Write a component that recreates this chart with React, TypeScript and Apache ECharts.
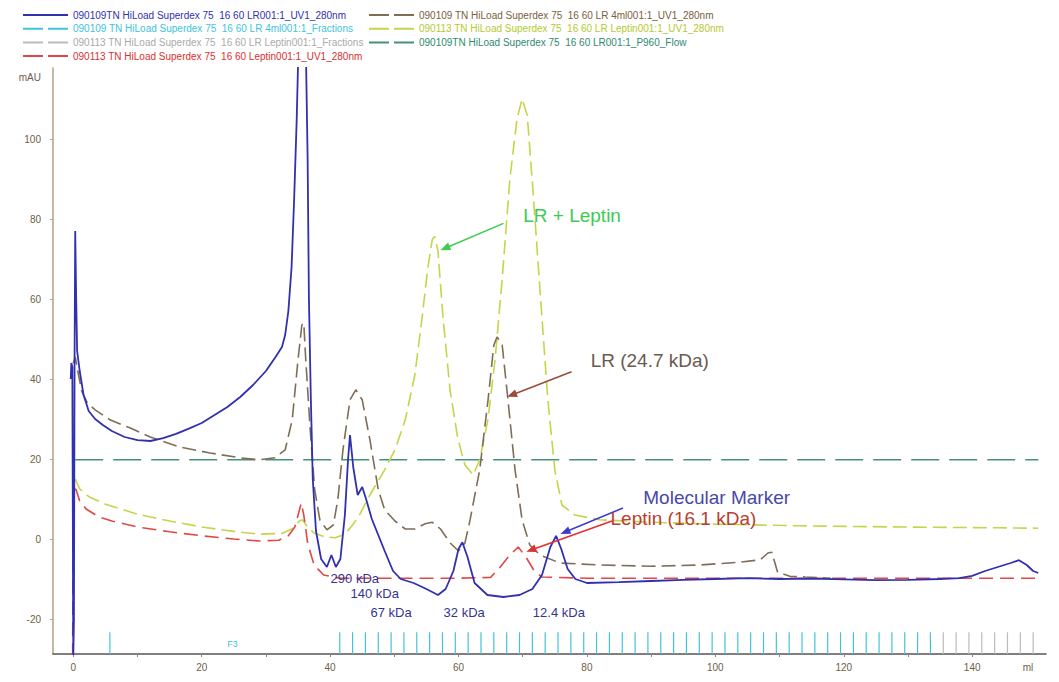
import React, { useEffect, useRef } from 'react';
import * as echarts from 'echarts';

// ---- series names (legend) ----
const NAME_LR_UV = '090109TN HiLoad Superdex 75  16 60 LR001:1_UV1_280nm';
const NAME_LR4_FR = '090109 TN HiLoad Superdex 75  16 60 LR 4ml001:1_Fractions';
const NAME_LRL_FR = '090113 TN HiLoad Superdex 75  16 60 LR Leptin001:1_Fractions';
const NAME_LEP_UV = '090113 TN HiLoad Superdex 75  16 60 Leptin001:1_UV1_280nm';
const NAME_LR4_UV = '090109 TN HiLoad Superdex 75  16 60 LR 4ml001:1_UV1_280nm';
const NAME_LRL_UV = '090113 TN HiLoad Superdex 75  16 60 LR Leptin001:1_UV1_280nm';
const NAME_FLOW = '090109TN HiLoad Superdex 75  16 60 LR001:1_P960_Flow';

// ---- axis ticks ----
const xLabelValues = [0, 20, 40, 60, 80, 100, 120, 140];
const xTickValues = [0, 10, 20, 30, 40, 50, 60, 70, 80, 90, 100, 110, 120, 130, 140];
const yLabelValues = [-20, 0, 20, 40, 60, 80, 100];

// ---- LR001 UV (blue, solid) ----
const lrUvX = [-0.4, -0.3, -0.15, 0.0, 0.1, 0.2, 0.3, 0.45, 0.6, 1.0, 1.6, 2.4, 3.4, 4.6, 6.0, 8.0, 10.0, 12.0, 14.0, 16.0, 18.0, 20.0, 22.0, 24.0, 26.0, 28.0, 30.0, 31.5, 32.5, 33.0, 33.5, 34.0, 34.4, 34.8, 35.1, 35.6, 36.2, 36.5, 36.7, 37.0, 37.3, 37.8, 38.6, 39.5, 40.2, 40.9, 41.6, 42.3, 42.8, 43.1, 43.6, 44.3, 45.0, 45.6, 46.5, 47.5, 48.5, 49.8, 51.0, 53.0, 55.0, 56.8, 58.0, 59.2, 60.0, 60.6, 61.4, 62.5, 64.5, 67.0, 69.5, 71.5, 73.0, 74.3, 75.2, 76.0, 77.0, 78.2, 80.0, 85.0, 90.0, 95.0, 100.0, 105.0, 110.0, 115.0, 120.0, 125.0, 130.0, 135.0, 138.0, 140.0, 142.0, 144.0, 146.0, 147.3, 148.5, 149.5, 150.3];
const lrUvY = [40, 44, 43, -29.5, -20, 45, 77, 60, 47, 42, 36, 32, 30, 28.5, 27, 25.5, 24.7, 24.5, 25.2, 26.3, 27.6, 29, 31, 33, 35.5, 38.5, 42, 45.5, 48, 51, 57, 68, 85, 105, 125, 130, 125, 95, 60, 35, 15, 2, -5, -7, -4, -7, -5, 6, 20, 26, 18, 11, 13, 10, 5, 1, -3, -8, -10, -11, -12.5, -14, -12.5, -8, -2.5, -0.8, -4.5, -11, -14, -14.5, -14, -12.5, -9, -2, 0.8, -2.5, -7.5, -10, -11, -10.8, -10.5, -10.2, -10, -9.8, -10, -9.9, -10.1, -10.3, -10.2, -10, -9.8, -9.2, -8, -7, -6, -5.3, -6.5, -8, -8.5];

// ---- Leptin001 UV (red, dashed) ----
const lepUvX = [-0.1, 0.0, 0.4, 1.0, 2.0, 4.0, 6.0, 10.0, 15.0, 20.0, 25.0, 29.0, 32.0, 33.5, 34.5, 35.1, 35.5, 35.9, 36.5, 37.5, 39.0, 41.5, 50.0, 60.0, 65.0, 66.5, 68.0, 69.3, 70.5, 71.8, 73.0, 80.0, 100.0, 120.0, 140.0, 150.3];
const lepUvY = [-29.5, 12, 12.5, 9.5, 7.5, 5.5, 4.5, 3, 1.8, 0.8, 0, -0.5, -0.3, 0.8, 3, 6.5, 9, 6, -1, -6.5, -9, -9.8, -9.8, -9.8, -9.6, -7, -4, -2, -4.5, -8, -9.5, -9.8, -9.8, -9.8, -9.8, -9.8];

// ---- LR Leptin001 UV (yellow-green, dashed) ----
const lrlUvX = [0.3, 1.0, 2.5, 5.0, 10.0, 15.0, 20.0, 25.0, 29.0, 32.5, 34.2, 35.2, 35.7, 36.4, 37.5, 39.0, 40.8, 42.3, 43.5, 44.5, 46.2, 48.5, 50.1, 51.7, 53.2, 54.3, 55.2, 55.9, 56.3, 56.8, 57.6, 58.7, 59.9, 61.0, 62.3, 63.3, 64.6, 65.7, 66.8, 68.0, 69.1, 69.9, 70.7, 71.6, 72.7, 73.9, 75.0, 76.1, 78.1, 82.0, 90.0, 100.0, 113.0, 129.0, 144.0, 150.3];
const lrlUvY = [15, 12.5, 10.5, 8.7, 6.2, 4.5, 3, 1.9, 1.2, 1.4, 2.6, 4.5, 4.8, 3.2, 1.5, 0.6, 0.3, 1.2, 3.5, 5.8, 11, 17.3, 22.3, 29.8, 41, 55, 67.5, 74.8, 75.6, 72, 55, 37, 25, 18.5, 16, 19.8, 30, 45, 65, 90, 105, 110, 106, 87, 62, 35, 17.3, 8.5, 6, 4.8, 4.2, 3.7, 3.3, 3, 2.8, 2.7];

// ---- LR 4ml001 UV (brown, dashed) ----
const lr4UvX = [0.0, 0.3, 0.7, 1.3, 2.2, 3.4, 5.7, 8.8, 12.0, 16.6, 21.3, 26.0, 29.0, 31.4, 33.0, 34.1, 35.0, 35.6, 35.9, 36.2, 36.9, 37.6, 38.4, 39.5, 40.5, 41.2, 42.0, 43.1, 44.0, 45.0, 46.2, 47.5, 48.5, 50.1, 51.7, 53.2, 54.8, 55.9, 57.2, 58.7, 60.0, 61.0, 61.8, 63.3, 64.6, 65.5, 66.0, 66.8, 67.7, 68.8, 69.9, 71.1, 72.7, 75.8, 82.0, 90.0, 97.6, 103.8, 107.0, 108.2, 108.8, 109.7, 111.6, 114.0, 118.0];
const lr4UvY = [44, 45.5, 42, 37, 34, 32.3, 29.8, 27.8, 25.5, 23, 21.5, 20.3, 19.8, 20.3, 22.3, 29.8, 44.8, 53.5, 54, 45, 27.3, 12.3, 4.8, 2.3, 3.5, 9.8, 22.3, 34.8, 37.3, 34.8, 24.8, 12.3, 7.3, 4.5, 2.5, 2.5, 3.8, 4.2, 2.5, -1, -3, -1, 4.8, 17.3, 34.8, 48.5, 50.5, 48.5, 34.8, 17.3, 4.8, -1.5, -4, -6, -6.5, -6.8, -6.5, -5.8, -5.2, -3.5, -3.3, -8.3, -9.3, -9.5, -9.8];

// ---- P960 flow (teal, dashed) ----
const flowX = [0.3, 150.3];
const flowY = [19.8, 19.8];

// ---- fractions (tick marks) ----
const lr4Fractions = [5.7, 41.5, 43.5, 45.5, 47.5, 49.5, 51.5, 53.5, 55.5, 57.5, 59.5, 61.5, 63.5, 65.5, 67.5, 69.5, 71.5, 73.5, 75.5, 77.5, 79.5, 81.5, 83.5, 85.5, 87.5, 89.5, 91.5, 93.5, 95.5, 97.5, 99.5, 101.5, 103.5, 105.5, 107.5, 109.5, 111.5, 113.5, 115.5, 117.5, 119.5, 121.5, 123.5, 125.5, 127.5, 129.5, 131.5, 133.5];
const lrlFractions = [135.5, 137.5, 139.5, 141.5, 143.5, 145.5, 147.5, 149.5];

const FONT = "'Liberation Sans', Arial, sans-serif";

const zip = (xs: number[], ys: number[]) => xs.map((x, i) => [x, ys[i]]);
const ticks = (xs: number[], y0: number, y1: number) =>
  xs.flatMap((x) => [[x, y0], [x, y1], [x, '-']]);

const arrow = (color: string, from: number[], to: number[]) => ({
  silent: true,
  symbol: ['none', 'triangle'],
  symbolSize: [8, 10],
  label: { show: false },
  emphasis: { disabled: true },
  lineStyle: { type: 'solid', width: 1.5, color },
  data: [[{ coord: from }, { coord: to }]],
});

const textMark = (color: string, size: number, items: { coord: number[]; text: string }[]) => ({
  silent: true,
  symbol: 'circle',
  symbolSize: 1,
  itemStyle: { color: 'rgba(0,0,0,0)' },
  label: { show: true, position: 'right', distance: 0, color, fontSize: size, fontFamily: FONT },
  data: items.map((it) => ({ coord: it.coord, label: { formatter: it.text } })),
});

const C_BLUE = '#3030b0';
const C_RED = '#e04848';
const C_YEL = '#c6d448';
const C_BROWN = '#7f6d55';
const C_TEAL = '#45907e';
const C_CYAN = '#40c4dc';
const C_GRAY = '#bbbbbb';

const legendDash = [20, 5];

export default function App() {
  const ref = useRef<HTMLDivElement>(null);
  useEffect(() => {
    const chart = echarts.init(ref.current as HTMLDivElement, null, { renderer: 'svg' });
    const legendText = { fontSize: 10, fontFamily: FONT, lineHeight: 12 };
    const legendBase = {
      orient: 'vertical', top: 9, padding: 0, itemWidth: 45, itemHeight: 10, itemGap: 1.7,
      selectedMode: false, textStyle: legendText,
      itemStyle: { color: 'rgba(0,0,0,0)', borderWidth: 0, opacity: 0 },
    };
    chart.setOption({
      animation: false,
      backgroundColor: '#ffffff',
      textStyle: { fontFamily: FONT },
      grid: { left: 53, right: 13, top: 68, bottom: 28, containLabel: false, outerBoundsMode: 'none' },
      legend: [
        {
          ...legendBase, left: 22,
          data: [
            { name: NAME_LR_UV, textStyle: { color: C_BLUE }, lineStyle: { width: 2 } },
            { name: NAME_LR4_FR, textStyle: { color: C_CYAN }, lineStyle: { type: legendDash, width: 2 } },
            { name: NAME_LRL_FR, textStyle: { color: '#aaaaaa' }, lineStyle: { type: legendDash, width: 2 } },
            { name: NAME_LEP_UV, textStyle: { color: '#d83030' }, lineStyle: { type: legendDash, width: 2 } },
          ],
        },
        {
          ...legendBase, left: 368,
          data: [
            { name: NAME_LR4_UV, textStyle: { color: '#7a6040' }, lineStyle: { type: legendDash, width: 2 } },
            { name: NAME_LRL_UV, textStyle: { color: '#b4ca30' }, lineStyle: { type: legendDash, width: 2 } },
            { name: NAME_FLOW, textStyle: { color: '#2e8a70' }, lineStyle: { type: legendDash, width: 2 } },
          ],
        },
      ],
      xAxis: {
        type: 'value', min: -3.16, max: 151.5,
        axisLine: { show: true, onZero: false, lineStyle: { color: '#555555', width: 1.5 } },
        axisTick: { show: true, length: 3, customValues: xTickValues, lineStyle: { color: '#888888' } },
        axisLabel: {
          customValues: [...xLabelValues, 148.7],
          formatter: (v: number) => (v > 145 ? 'ml' : String(v)),
          color: '#6e5e48', fontSize: 10, margin: 8,
        },
        splitLine: { show: false },
      },
      yAxis: {
        type: 'value', min: -28.75, max: 117.75,
        axisLine: { show: true, onZero: false, lineStyle: { color: '#b3a088', width: 1.5 } },
        axisTick: { show: true, length: 3, customValues: yLabelValues, lineStyle: { color: '#b3a088' } },
        axisLabel: {
          customValues: [...yLabelValues, 115.5],
          formatter: (v: number) => (v > 110 ? 'mAU' : String(v)),
          color: '#6e5e48', fontSize: 10, margin: 12,
        },
        splitLine: { show: false },
      },
      series: [
        {
          name: NAME_LR4_FR, type: 'line', showSymbol: false, symbol: 'none', connectNulls: false,
          color: C_CYAN, lineStyle: { width: 1.2, color: C_CYAN },
          data: ticks(lr4Fractions, -28.75, -23.3),
          markPoint: textMark(C_CYAN, 9, [{ coord: [23.9, -26.3], text: 'F3' }]),
        },
        {
          name: NAME_LRL_FR, type: 'line', showSymbol: false, symbol: 'none', connectNulls: false,
          color: C_GRAY, lineStyle: { width: 1.2, color: C_GRAY },
          data: ticks(lrlFractions, -28.75, -23.3),
        },
        {
          name: NAME_FLOW, type: 'line', showSymbol: false, symbol: 'none',
          color: C_TEAL, lineStyle: { width: 1.5, color: C_TEAL, type: [28, 10] },
          data: zip(flowX, flowY),
        },
        {
          name: NAME_LRL_UV, type: 'line', showSymbol: false, symbol: 'none',
          color: C_YEL, lineStyle: { width: 1.6, color: C_YEL, type: [14, 6] },
          data: zip(lrlUvX, lrlUvY),
          markLine: arrow('#3ccc50', [67.0, 78.9], [57.9, 72.7]),
          markPoint: textMark('#3ccc50', 19, [{ coord: [70.0, 81.0], text: 'LR + Leptin' }]),
        },
        {
          name: NAME_LEP_UV, type: 'line', showSymbol: false, symbol: 'none',
          color: C_RED, lineStyle: { width: 1.6, color: C_RED, type: [14, 7] },
          data: zip(lepUvX, lepUvY),
          markLine: arrow('#e03030', [83.9, 4.5], [71.3, -2.75]),
          markPoint: textMark('#b84030', 19, [{ coord: [83.6, 5.25], text: 'Leptin (16.1 kDa)' }]),
        },
        {
          name: NAME_LR4_UV, type: 'line', showSymbol: false, symbol: 'none',
          color: C_BROWN, lineStyle: { width: 1.6, color: C_BROWN, type: [14, 6] },
          data: zip(lr4UvX, lr4UvY),
          markLine: arrow('#9a4a3a', [77.6, 41.8], [68.3, 36.0]),
          markPoint: textMark('#6a5a50', 19, [{ coord: [80.5, 44.75], text: 'LR (24.7 kDa)' }]),
        },
        {
          name: NAME_LR_UV, type: 'line', showSymbol: false, symbol: 'none',
          color: C_BLUE, lineStyle: { width: 1.8, color: C_BLUE },
          data: zip(lrUvX, lrUvY),
          markLine: arrow('#3a3ad0', [85.6, 7.75], [76.6, 1.75]),
          markPoint: textMark('#4848a8', 19, [{ coord: [88.7, 10.5], text: 'Molecular Marker' }]),
        },
        {
          name: 'kDa markers', type: 'line', showSymbol: false, symbol: 'none', data: [],
          markPoint: textMark('#35358f', 13, [
            { coord: [40.0, -9.75], text: '290 kDa' },
            { coord: [43.1, -13.5], text: '140 kDa' },
            { coord: [46.2, -18.25], text: '67 kDa' },
            { coord: [57.6, -18.25], text: '32 kDa' },
            { coord: [71.5, -18.25], text: '12.4 kDa' },
          ]),
        },
      ],
    });
    return () => chart.dispose();
  }, []);
  return (
    <div
      ref={ref}
      style={{ position: 'fixed', left: 0, top: 0, width: 1059, height: 682, background: '#ffffff' }}
    />
  );
}
